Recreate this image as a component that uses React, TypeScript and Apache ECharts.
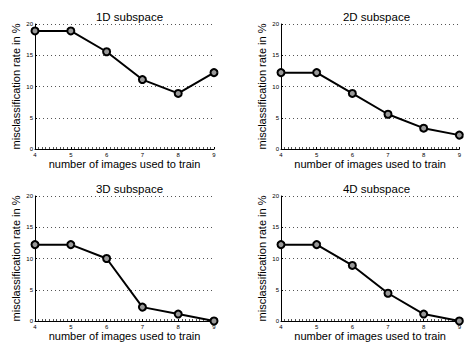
import React, { useEffect, useRef } from "react";
import * as echarts from "echarts";

const trainImages = [4, 5, 6, 7, 8, 9];
const titles = ["1D subspace", "2D subspace", "3D subspace", "4D subspace"];
const rate1D = [18.89, 18.89, 15.56, 11.11, 8.89, 12.22];
const rate2D = [12.22, 12.22, 8.89, 5.56, 3.33, 2.22];
const rate3D = [12.22, 12.22, 10.0, 2.22, 1.11, 0];
const rate4D = [12.22, 12.22, 8.89, 4.44, 1.11, 0];
const allRates = [rate1D, rate2D, rate3D, rate4D];
const yTicks = [0, 5, 10, 15, 20];

const FONT = "Liberation Sans, Arial, Helvetica, sans-serif";

export default function App() {
  const ref = useRef<HTMLDivElement>(null);
  useEffect(() => {
    if (!ref.current) return;
    const chart = echarts.init(ref.current, undefined, { renderer: "svg" });
    const grids = [
      { left: 35, top: 24, width: 179, height: 125 },
      { left: 281, top: 24, width: 181, height: 125 },
      { left: 35, top: 196, width: 179, height: 125 },
      { left: 281, top: 196, width: 181, height: 125 },
    ];
    const option: any = {
      animation: false,
      backgroundColor: "#fff",
      title: titles.map((t, i) => ({
        text: t,
        left: grids[i].left + grids[i].width / 2,
        textAlign: "center",
        top: grids[i].top - 18,
        textStyle: { fontFamily: FONT, fontSize: 11.5, fontWeight: "normal", color: "#000" },
      })),
      grid: grids.map((g) => ({ ...g, containLabel: false })),
      xAxis: grids.map((_, i) => ({
        type: "value",
        gridIndex: i,
        min: 4,
        max: 9,
        interval: 1,
        name: "number of images used to train",
        nameLocation: "middle",
        nameGap: 9,
        nameTextStyle: { fontFamily: FONT, fontSize: 11, color: "#000" },
        axisLine: { show: true, onZero: false, lineStyle: { color: "#000", width: 1 } },
        axisTick: { show: true, inside: true, length: 2, lineStyle: { color: "#000" } },
        minorTick: { show: true, splitNumber: 10, length: 2, lineStyle: { color: "#555" } },
        axisLabel: { fontFamily: FONT, fontSize: 6, color: "#000", margin: 3 },
        splitLine: { show: false },
      })),
      yAxis: grids.map((_, i) => ({
        type: "value",
        gridIndex: i,
        min: 0,
        max: 20,
        interval: 5,
        name: "misclassification rate in %",
        nameLocation: "middle",
        nameGap: 14,
        nameTextStyle: { fontFamily: FONT, fontSize: 11, color: "#000" },
        axisLine: { show: true, lineStyle: { color: "#000", width: 1 } },
        axisTick: { show: true, inside: true, length: 2, lineStyle: { color: "#000" } },
        axisLabel: {
          fontFamily: FONT,
          fontSize: 6,
          color: "#000",
          margin: 2,
          formatter: (v: number) => (yTicks.includes(v) ? String(v) : ""),
        },
        splitLine: { show: true, lineStyle: { color: "#555", width: 1, type: [1, 3] } },
      })),
      series: allRates.map((rates, i) => ({
        type: "line",
        xAxisIndex: i,
        yAxisIndex: i,
        data: trainImages.map((x, j) => [x, rates[j]]),
        lineStyle: { color: "#000", width: 2 },
        symbol: "circle",
        symbolSize: 7,
        itemStyle: { color: "#999", borderColor: "#000", borderWidth: 2 },
        clip: false,
      })),
    };
    chart.setOption(option);
    return () => chart.dispose();
  }, []);
  return (
    <div
      ref={ref}
      style={{ position: "absolute", left: 0, top: 0, width: 464, height: 344, background: "#fff" }}
    />
  );
}
